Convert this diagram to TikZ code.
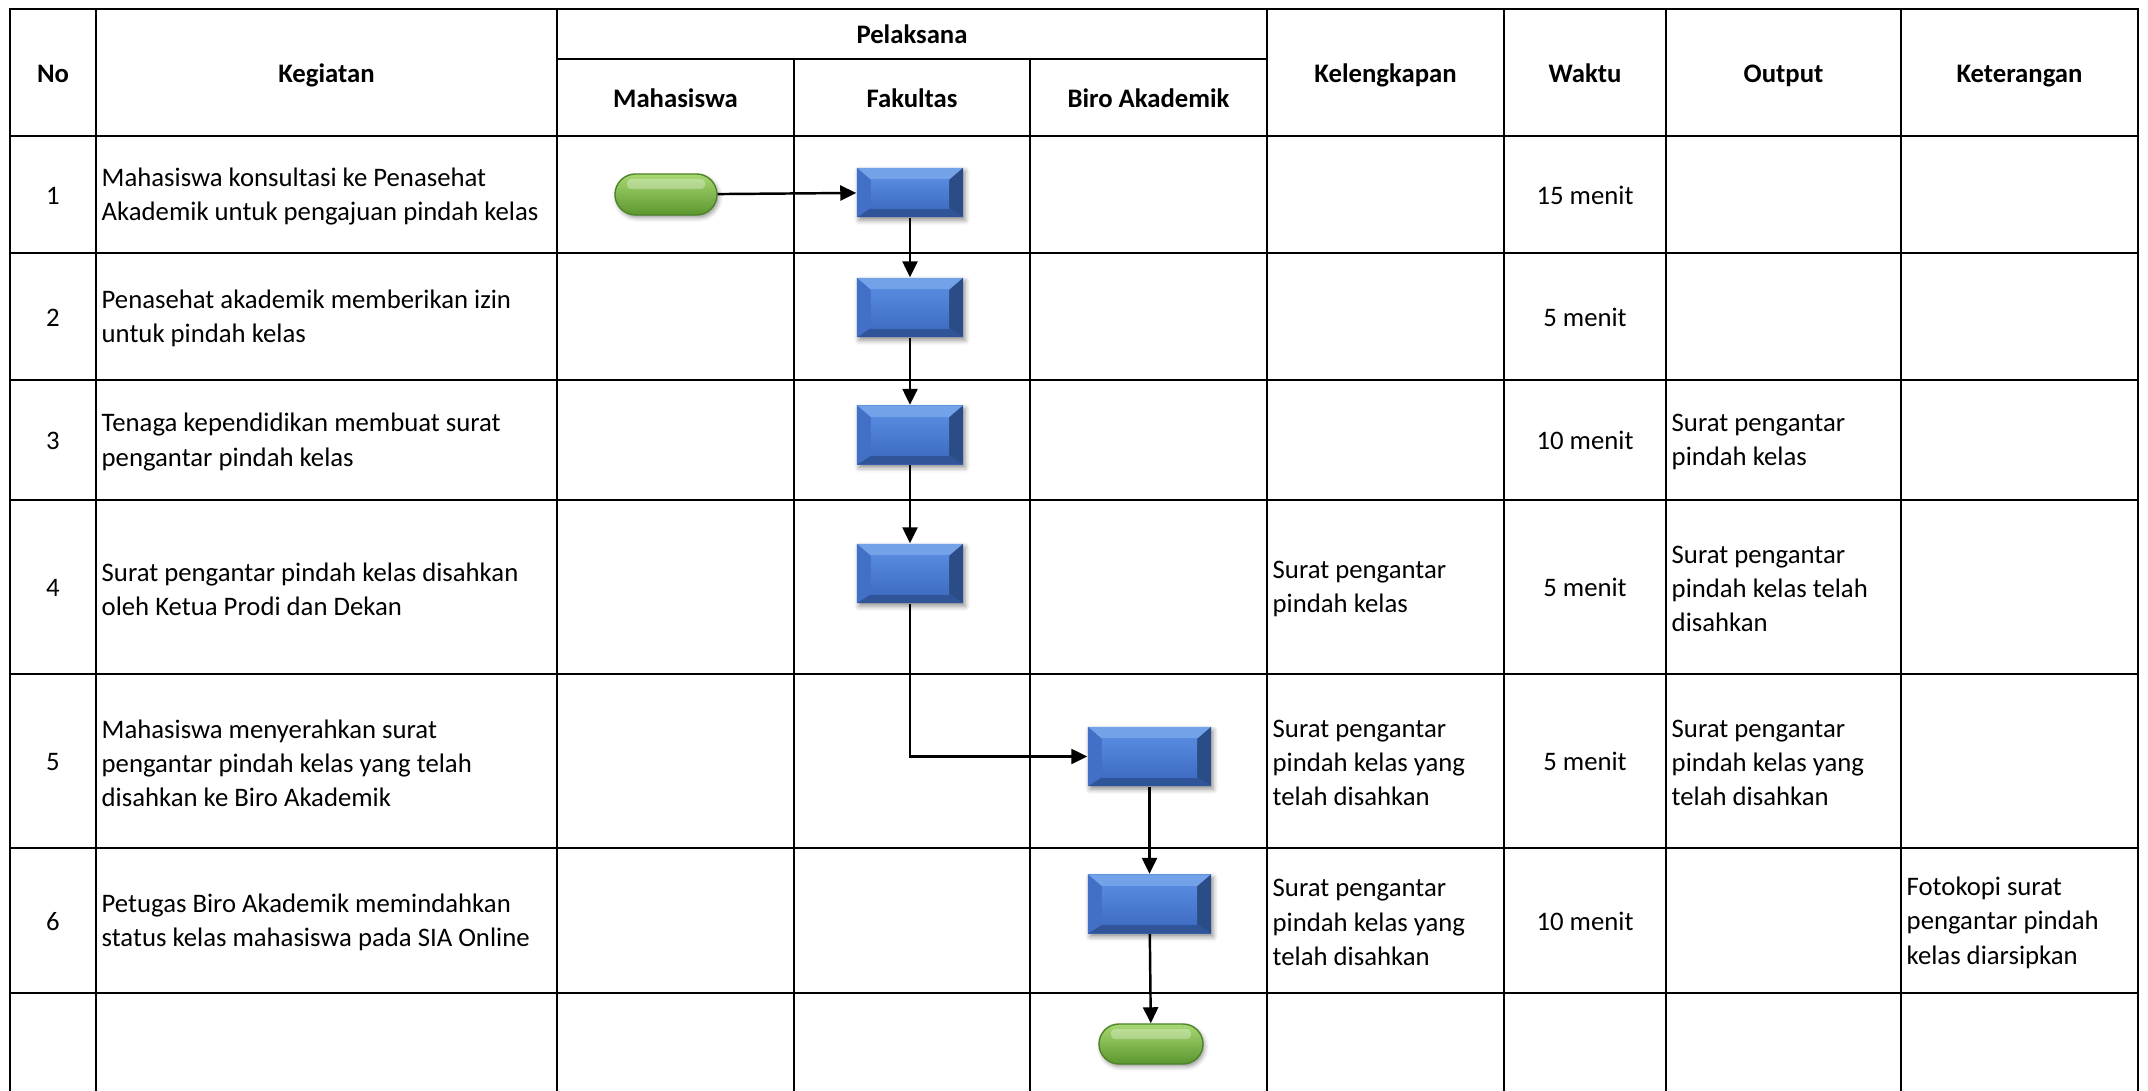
\documentclass[tikz,border=0pt]{standalone}
\usepackage{fontspec}
\setmainfont{Carlito}
\usetikzlibrary{positioning, calc, arrows.meta, shapes.misc, shadows.blur}

\definecolor{facemid}{HTML}{4677CF}
\definecolor{facetop}{HTML}{5689DE}
\definecolor{facebot}{HTML}{3F6EC4}
\definecolor{bvtop}{HTML}{74A2E8}
\definecolor{bvleft}{HTML}{4170C6}
\definecolor{bvright}{HTML}{2A4D88}
\definecolor{bvbot}{HTML}{2F5497}
\definecolor{pilltop}{HTML}{A8D872}
\definecolor{pillmid}{HTML}{7BB848}
\definecolor{pillbot}{HTML}{5C962F}
\definecolor{pillrim}{HTML}{4E8429}

\begin{document}
\begin{tikzpicture}[
  x=0.01cm, y=-0.01cm,
  font=\fontsize{7.6}{9.75}\selectfont,
  grid/.style={line width=0.8pt, line cap=rect},
  head/.style={font=\fontsize{7.6}{9.75}\selectfont\bfseries, inner sep=0pt,
    text height=6.5pt, text depth=1pt},
  txt/.style={anchor=west, align=left, inner sep=0pt, yshift=-0.6pt},
  num/.style={align=center, inner sep=0pt, text height=6.5pt, text depth=1pt},
  proc/.style={
    rectangle, inner sep=0pt, minimum width=1.06cm, minimum height=0.59cm,
    fill=facemid,
    blur shadow={shadow xshift=0.6pt, shadow yshift=-0.9pt,
      shadow blur radius=1.4pt, shadow opacity=45},
    path picture={
      \path (path picture bounding box.north west) coordinate (o1)
            (path picture bounding box.north east) coordinate (o2)
            (path picture bounding box.south east) coordinate (o3)
            (path picture bounding box.south west) coordinate (o4);
      \path ($(o1)+(0.14cm,-0.12cm)$) coordinate (i1)
            ($(o2)+(-0.14cm,-0.12cm)$) coordinate (i2)
            ($(o3)+(-0.14cm,0.09cm)$) coordinate (i3)
            ($(o4)+(0.14cm,0.09cm)$) coordinate (i4);
      \fill[bvtop] (o1) -- (o2) -- (i2) -- (i1) -- cycle;
      \fill[bvright] (o2) -- (o3) -- (i3) -- (i2) -- cycle;
      \fill[bvbot] (o3) -- (o4) -- (i4) -- (i3) -- cycle;
      \fill[bvleft] (o4) -- (o1) -- (i1) -- (i4) -- cycle;
      \shade[top color=facetop, bottom color=facebot] (i1) rectangle (i3);
    }
  },
  term/.style={
    rounded rectangle, inner sep=0pt, minimum width=1.02cm, minimum height=0.41cm,
    draw=pillrim, line width=0.4pt,
    top color=pilltop, middle color=pillmid, bottom color=pillbot,
    blur shadow={shadow xshift=0.5pt, shadow yshift=-0.8pt,
      shadow blur radius=1.2pt, shadow opacity=40},
    path picture={
      \fill[white, opacity=0.3, rounded corners=0.04cm]
        ($(path picture bounding box.north west)+(0.12cm,-0.05cm)$) rectangle
        ($(path picture bounding box.north east)+(-0.12cm,-0.15cm)$);
    }
  },
  flow/.style={line width=0.7pt, -{Triangle[length=0.16cm, width=0.15cm]}},
]
  \useasboundingbox (0,0) rectangle (2148,1091);

  % --- grid ---
  \foreach \yy in {9,136,253,380,500,674,848,993}
    \draw[grid] (10,\yy) -- (2138,\yy);
  \draw[grid] (557,59) -- (1267,59);
  \foreach \xx in {10,96,557,1267,1504,1666,1901,2138}
    \draw[grid] (\xx,9) -- (\xx,1091);
  \foreach \xx in {794,1030}
    \draw[grid] (\xx,59) -- (\xx,1091);

  % --- header ---
  \node[head] (hno) at (53,72.5) {No};
  \node[head] (hkeg) at (326.5,72.5) {Kegiatan};
  \node[head] (hpel) at (912,34) {Pelaksana};
  \node[head] (hmhs) at (675.5,97.5) {Mahasiswa};
  \node[head] (hfak) at (912,97.5) {Fakultas};
  \node[head] (hbiro) at (1148.5,97.5) {Biro Akademik};
  \node[head] (hkel) at (1385.5,72.5) {Kelengkapan};
  \node[head] (hwkt) at (1585,72.5) {Waktu};
  \node[head] (hout) at (1783.5,72.5) {Output};
  \node[head] (hket) at (2019.5,72.5) {Keterangan};

  % --- Row 1 ---
  \node[num] (n1) at (53,194.5) {1};
  \node[txt] (k1) at (101,194.5) {Mahasiswa konsultasi ke Penasehat\\Akademik untuk pengajuan pindah kelas};
  \node[num] (w1) at (1585,194.5) {15 menit};

  % --- Row 2 ---
  \node[num] (n2) at (53,316.5) {2};
  \node[txt] (k2) at (101,316.5) {Penasehat akademik memberikan izin\\untuk pindah kelas};
  \node[num] (w2) at (1585,316.5) {5 menit};

  % --- Row 3 ---
  \node[num] (n3) at (53,440) {3};
  \node[txt] (k3) at (101,440) {Tenaga kependidikan membuat surat\\pengantar pindah kelas};
  \node[num] (w3) at (1585,440) {10 menit};
  \node[txt] (o3) at (1671,440) {Surat pengantar\\pindah kelas};

  % --- Row 4 ---
  \node[num] (n4) at (53,587) {4};
  \node[txt] (k4) at (101,587) {Surat pengantar pindah kelas disahkan\\oleh Ketua Prodi dan Dekan};
  \node[txt] (l4) at (1272,587) {Surat pengantar\\pindah kelas};
  \node[num] (w4) at (1585,587) {5 menit};
  \node[txt] (o4) at (1671,587) {Surat pengantar\\pindah kelas telah\\disahkan};

  % --- Row 5 ---
  \node[num] (n5) at (53,761) {5};
  \node[txt] (k5) at (101,761) {Mahasiswa menyerahkan surat\\pengantar pindah kelas yang telah\\disahkan ke Biro Akademik};
  \node[txt] (l5) at (1272,761) {Surat pengantar\\pindah kelas yang\\telah disahkan};
  \node[num] (w5) at (1585,761) {5 menit};
  \node[txt] (o5) at (1671,761) {Surat pengantar\\pindah kelas yang\\telah disahkan};

  % --- Row 6 ---
  \node[num] (n6) at (53,920.5) {6};
  \node[txt] (k6) at (101,920.5) {Petugas Biro Akademik memindahkan\\status kelas mahasiswa pada SIA Online};
  \node[txt] (l6) at (1272,920.5) {Surat pengantar\\pindah kelas yang\\telah disahkan};
  \node[num] (w6) at (1585,920.5) {10 menit};
  \node[txt] (c6) at (1906,920.5) {Fotokopi surat\\pengantar pindah\\kelas diarsipkan};

  % --- flow shapes ---
  \node[term] (start) at (666,194.5) {};
  \node[proc, minimum height=0.49cm] (f1) at (910,192.5) {};
  \node[proc] (f2) at (910,307.5) {};
  \node[proc] (f3) at (910,435) {};
  \node[proc] (f4) at (910,573.5) {};
  \node[proc, minimum width=1.23cm] (b5) at (1149.5,756.5) {};
  \node[proc, minimum width=1.23cm] (b6) at (1149.5,904) {};
  \node[term, minimum width=1.04cm, minimum height=0.40cm] (stop) at (1151,1044) {};

  % --- connectors ---
  \draw[flow] (start) -- (f1);
  \draw[flow] (f1) -- (f2);
  \draw[flow] (f2) -- (f3);
  \draw[flow] (f3) -- (f4);
  \draw[flow] (f4) |- (b5);
  \draw[flow] (b5) -- (b6);
  \draw[flow] (b6) -- (stop);

\end{tikzpicture}
\end{document}
